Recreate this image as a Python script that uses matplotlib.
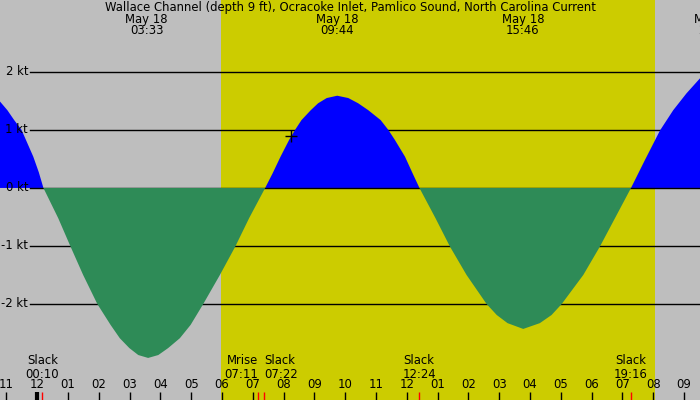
import numpy as np
import matplotlib
matplotlib.use("Agg")
import matplotlib.pyplot as plt
import matplotlib.transforms as mtransforms

# current in knots (hours from midnight May 18)
hours = [-1.21, -0.97, -0.75, -0.51, -0.13, 0.05, 0.20,
         0.68, 1.08, 1.49, 1.95, 2.38, 2.68, 2.99, 3.28, 3.60,
         3.93, 4.25, 4.63, 4.98, 5.39, 5.93, 6.43, 6.88, 7.40,
         7.64, 7.90, 8.18, 8.37, 8.58, 8.88, 9.12, 9.40, 9.74,
         10.10, 10.42, 10.75, 11.15, 11.40, 11.61, 11.94, 12.19, 12.41,
         12.93, 13.40, 13.94, 14.59, 14.92, 15.27, 15.78,
         16.32, 16.70, 17.03, 17.73, 18.27, 18.76, 19.28,
         19.73, 20.22, 20.65, 21.08, 21.52]
knots = [1.49, 1.34, 1.17, 1.00, 0.54, 0.27, 0.00,
         -0.52, -1.01, -1.50, -2.00, -2.36, -2.59, -2.76, -2.88, -2.93,
         -2.88, -2.76, -2.59, -2.36, -2.00, -1.50, -1.01, -0.52, 0.00,
         0.25, 0.54, 0.83, 1.00, 1.17, 1.34, 1.46, 1.55, 1.59,
         1.55, 1.46, 1.34, 1.17, 1.00, 0.83, 0.54, 0.25, 0.00,
         -0.52, -1.01, -1.50, -2.00, -2.19, -2.33, -2.43,
         -2.33, -2.19, -2.00, -1.50, -1.01, -0.52, 0.00,
         0.48, 0.99, 1.34, 1.63, 1.89]

sunrise, sunset = 5.96, 20.05
grid_kt = [2, 1, 0, -1, -2]

peak_hours = [3.55, 9.733, 15.767, 22.0]
peak_labels = ["03:33", "09:44", "15:46", "22:00"]
peak_date = "May 18"

event_names = ["Slack", "Mrise", "Slack", "Slack", "Slack"]
event_times = ["00:10", "07:11", "07:22", "12:24", "19:16"]
event_hours = [0.167, 7.183, 7.367, 12.4, 19.267]
event_align = ["center", "right", "left", "center", "center"]

tick_hours = list(range(-1, 22))
tick_labels = ["%02d" % ((h % 12) or 12) for h in tick_hours]

title = "Wallace Channel (depth 9 ft), Ocracoke Inlet, Pamlico Sound, North Carolina Current"

W, H = 700, 400
gray = "#bebebe"
yellow = "#cccc00"

fig = plt.figure(figsize=(7, 4), dpi=100, facecolor=gray)
ax = fig.add_axes([0, 0, 1, 1])
ax.set_facecolor(gray)
ax.set_xlim(-1.21, 21.52)
ax.set_ylim(-3.655, 3.24)
ax.axis("off")

ax.axvspan(sunrise, sunset, color=yellow, lw=0, zorder=0)

t = np.array(hours)
v = np.array(knots)
for k in grid_kt:
    if k != 0:
        ax.axhline(k, xmin=30 / W, color="black", lw=1, zorder=1)
ax.fill_between(t, v, 0, where=v >= 0, interpolate=True, color="#0000ff", lw=0, zorder=2)
ax.axhline(0, xmin=30 / W, color="black", lw=1, zorder=3)
ax.fill_between(t, v, 0, where=v <= 0, interpolate=True, color="#2e8b57", lw=0, zorder=4)

fs = 8.4
ytr = mtransforms.blended_transform_factory(ax.transAxes, ax.transData)
for k in grid_kt:
    ax.text(28 / W, k, "%d kt" % k, transform=ytr, ha="right", va="center", fontsize=fs)

ax.plot([8.23], [0.897], marker="+", color="black", ms=9, mew=1, zorder=5)

xtr = mtransforms.blended_transform_factory(ax.transData, ax.transAxes)
ax.text(0.5, 1 - 8 / H, title, transform=ax.transAxes, ha="center", va="center", fontsize=fs)
for h, lab in zip(peak_hours, peak_labels):
    ax.text(h, 1 - 19 / H, peak_date, transform=xtr, ha="center", va="center", fontsize=fs)
    ax.text(h, 1 - 31 / H, lab, transform=xtr, ha="center", va="center", fontsize=fs)

for h, lab in zip(tick_hours, tick_labels):
    ax.text(h, 1 - 385 / H, lab, transform=xtr, ha="center", va="center", fontsize=fs)
    ax.plot([h, h], [0, 8 / H], transform=xtr, color="black", lw=3 if h == 0 else 1,
            solid_capstyle="butt", zorder=5)

for name, tm, h, al in zip(event_names, event_times, event_hours, event_align):
    ax.text(h, 1 - 361 / H, name, transform=xtr, ha=al, va="center", fontsize=fs)
    ax.text(h, 1 - 374 / H, tm, transform=xtr, ha=al, va="center", fontsize=fs)
    ax.plot([h, h], [0, 8 / H], transform=xtr, color="red", lw=1,
            solid_capstyle="butt", zorder=6)

fig.savefig("out.png", dpi=100, facecolor=gray)
